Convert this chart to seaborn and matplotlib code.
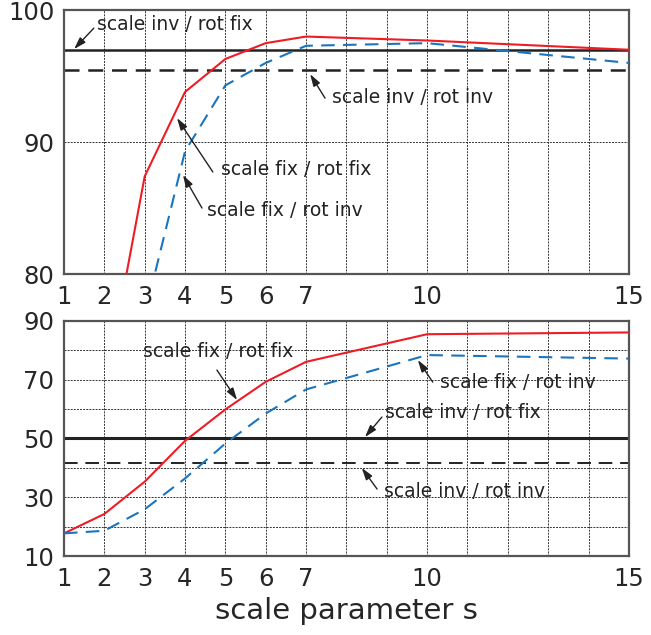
"""
Accuracy vs. scale parameter s, two panels (fixed/invariant scale and rotation)
"""
# %% IMPORT LIBRARIES
import matplotlib
matplotlib.use("Agg")
import matplotlib.pyplot as plt
import seaborn as sns
import pandas as pd

sns.set_style("white")
plt.rcParams['font.family'] = ['DejaVu Sans']

# %% DATA
scale_s = [1, 2, 3, 4, 5, 6, 7, 10, 15]

top_fix_fix = [55.0, 71.0, 87.4, 93.8, 96.3, 97.5, 98.0, 97.7, 97.0]
top_fix_inv = [45.0, 62.0, 76.9, 89.3, 94.3, 96.0, 97.3, 97.5, 96.0]
top_inv_fix = 97.0
top_inv_inv = 95.5

bottom_fix_fix = [17.7, 24.3, 35.3, 49.2, 59.9, 69.3, 76.1, 85.5, 86.1]
bottom_fix_inv = [17.7, 18.6, 25.9, 36.4, 48.3, 58.5, 66.7, 78.4, 77.2]
bottom_inv_fix = 50.0
bottom_inv_inv = 41.5

x_ticks = [1, 2, 3, 4, 5, 6, 7, 10, 15]

red = "#ee1c25"
blue = "#1b75bc"
grid_kw = dict(color="#333333", linestyle=(0, (2, 1.2)), linewidth=0.7)


def make_frame(fix_fix, fix_inv):
    df = pd.DataFrame({"s": scale_s * 2,
                       "acc": fix_fix + fix_inv,
                       "method": ["scale fix / rot fix"] * len(scale_s)
                       + ["scale fix / rot inv"] * len(scale_s)})
    return df


def style_axis(ax, ylim, yticks, yminor):
    ax.set_xlim(1, 15)
    ax.set_ylim(*ylim)
    ax.set_xticks(x_ticks)
    ax.set_xticks(range(1, 16), minor=True)
    ax.set_yticks(yticks)
    ax.set_yticks(yminor, minor=True)
    ax.grid(True, which="both", **grid_kw)
    ax.tick_params(which="both", length=0, labelsize=17.5)
    ax.tick_params(axis="x", pad=8)
    ax.tick_params(axis="y", pad=7)
    for sp in ax.spines.values():
        sp.set_color("#555555")
        sp.set_linewidth(1.6)
    ax.set_xlabel("")
    ax.set_ylabel("")
    if ax.get_legend() is not None:
        ax.get_legend().remove()


def note(ax, text, text_xy, tail, tip):
    ax.text(text_xy[0], text_xy[1], text, fontsize=13.5, va="center",
            ha="left", color="#222222")
    ax.annotate("", xy=tip, xytext=tail,
                arrowprops=dict(arrowstyle="-|>,head_length=0.8,head_width=0.25",
                                color="#222222", lw=1.0,
                                mutation_scale=9, shrinkA=0, shrinkB=0))


fig = plt.figure(figsize=(6.51, 6.35), dpi=100)
ax_top = fig.add_axes([0.0983, 0.5685, 0.8677, 0.4155])
ax_bot = fig.add_axes([0.0983, 0.1244, 0.8677, 0.3701])

# %% TOP PANEL
df_top = make_frame(top_fix_fix, top_fix_inv)
sns.lineplot(data=df_top, x="s", y="acc", hue="method", style="method",
             palette=[red, blue], dashes=[(None, None), (6.5, 4)],
             linewidth=1.5, ax=ax_top, zorder=3)
ax_top.axhline(top_inv_fix, color="#222222", lw=1.8, zorder=2)
ax_top.axhline(top_inv_inv, color="#222222", lw=1.8, ls=(0, (6, 3.5)), zorder=2)
style_axis(ax_top, (80, 100), [80, 90, 100], [90])

note(ax_top, "scale inv / rot fix", (1.82, 98.9), (1.74, 98.64), (1.25, 97.05))
note(ax_top, "scale inv / rot inv", (7.64, 93.4), (7.47, 93.33), (7.10, 95.15))
note(ax_top, "scale fix / rot fix", (4.89, 87.9), (4.69, 87.73), (3.80, 91.82))
note(ax_top, "scale fix / rot inv", (4.54, 84.85), (4.42, 85.0), (3.95, 87.5))

# %% BOTTOM PANEL
df_bot = make_frame(bottom_fix_fix, bottom_fix_inv)
sns.lineplot(data=df_bot, x="s", y="acc", hue="method", style="method",
             palette=[red, blue], dashes=[(None, None), (6.5, 4)],
             linewidth=1.5, ax=ax_bot, zorder=3)
ax_bot.axhline(bottom_inv_fix, color="#222222", lw=2.2, zorder=2)
ax_bot.axhline(bottom_inv_inv, color="#222222", lw=1.4, ls=(0, (7, 4)), zorder=2)
style_axis(ax_bot, (10, 90), [10, 30, 50, 70, 90], [20, 40, 60, 80])

note(ax_bot, "scale fix / rot fix", (2.96, 79.45), (4.79, 73.3), (5.29, 63.1))
note(ax_bot, "scale fix / rot inv", (10.32, 69.2), (10.14, 69.2), (9.77, 76.7))
note(ax_bot, "scale inv / rot fix", (8.95, 58.7), (8.88, 57.3), (8.46, 50.5))
note(ax_bot, "scale inv / rot inv", (8.93, 32.1), (8.76, 32.8), (8.38, 40.0))

ax_bot.set_xlabel("scale parameter s", fontsize=21, labelpad=4)

plt.savefig("out.png", dpi=100)
